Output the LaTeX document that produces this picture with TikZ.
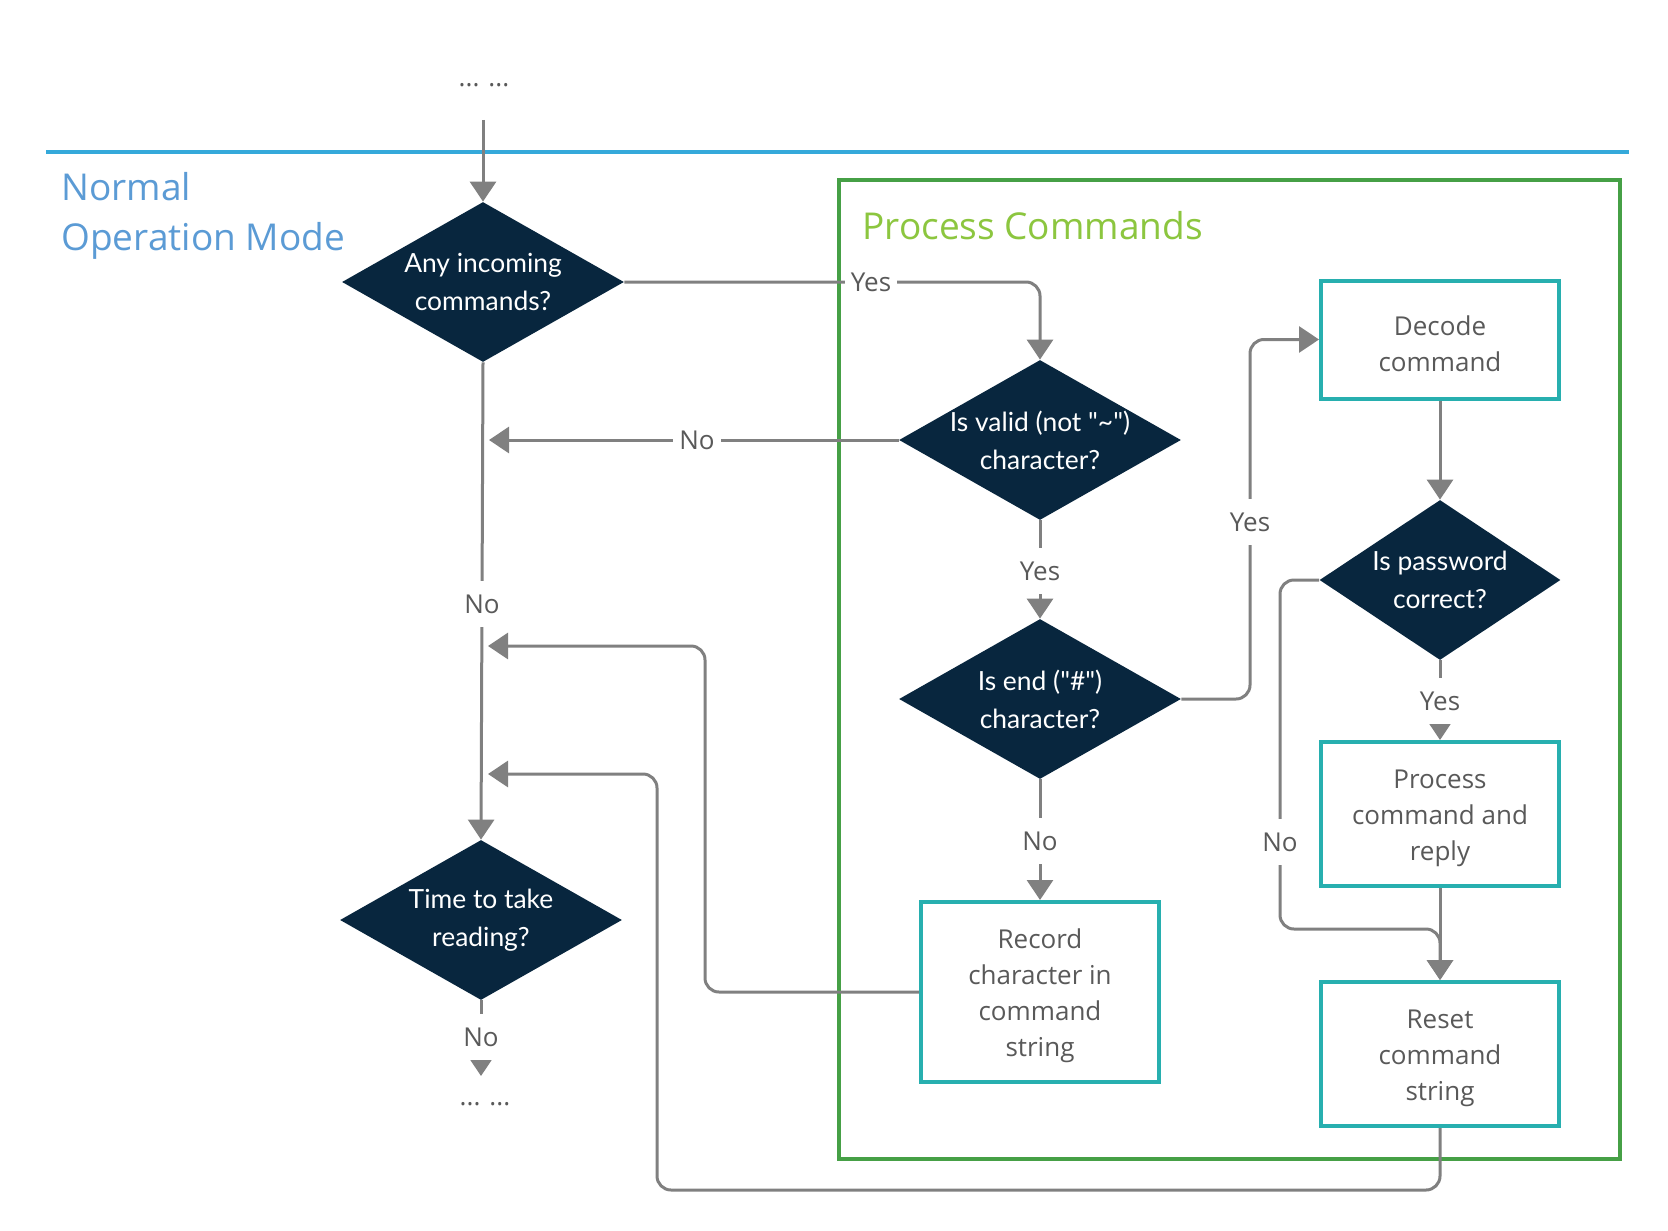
\documentclass[tikz,border=0pt]{standalone}
\usepackage{fontspec}
\setmainfont{Open Sans}
\newfontfamily\latofont{Lato}
\usetikzlibrary{shapes.geometric,arrows.meta}
\definecolor{navy}{HTML}{08263E}
\definecolor{linegray}{HTML}{808080}
\definecolor{boxteal}{HTML}{27AFAF}
\definecolor{framegreen}{HTML}{46A046}
\definecolor{titlegreen}{HTML}{8CC63F}
\definecolor{titleblue}{HTML}{5B9BD5}
\definecolor{bandblue}{HTML}{35A9DA}
\definecolor{txtgray}{HTML}{595959}
\begin{document}
\begin{tikzpicture}[x=0.5pt,y=-0.5pt,
  dia/.style={diamond, fill=navy, draw=none, inner sep=0pt, minimum width=141pt, minimum height=80pt},
  dtext/.style={text=white, font=\latofont\fontsize{13.2}{19}\selectfont, align=center, inner sep=0pt},
  box/.style={rectangle, draw=boxteal, line width=2pt, fill=white, minimum width=119pt, inner sep=0pt},
  btext/.style={align=center, text=txtgray, font=\fontsize{13}{18}\selectfont, inner sep=0pt, yshift=-2pt},
  conn/.style={draw=linegray, line width=1.5pt, rounded corners=7pt, -{Triangle[width=13pt,length=10pt]}},
  lbl/.style={fill=white, text=txtgray, font=\fontsize{13}{16}\selectfont, inner xsep=3pt, inner ysep=7pt},
  title/.style={inner sep=0pt, anchor=base west, font=\fontsize{18.5}{25}\selectfont},
  dots/.style={text=txtgray, font=\fontsize{13}{16}\selectfont, inner sep=0pt},
]
\useasboundingbox (0,0) rectangle (1668,1230);
\fill[white] (0,0) rectangle (1668,1230);

% band and frame
\draw[bandblue, line width=2pt] (46,152) -- (1629,152);
\draw[framegreen, line width=2pt] (839,180) rectangle (1620,1159);
\node[title, text=titleblue] (t1) at (61,200) {Normal};
\node[title, text=titleblue] (t2) at (61,250) {Operation Mode};
\node[title, text=titlegreen] (t3) at (862,239) {Process Commands};

% nodes
\node[dots] (dots1) at (484,85) {... ...};
\node[dots] (dots2) at (485,1104) {... ...};
\coordinate (c0) at (483,120);
\coordinate (c1) at (481,1076);
\coordinate (m1) at (489,440);
\coordinate (m2) at (488,646);
\coordinate (m3) at (488,774);

\node[dia, label={[dtext]center:{Any incoming\\commands?}}] (d1) at (483,282) {};
\node[dia, label={[dtext]center:{Is valid (not "\textasciitilde")\\character?}}] (d2) at (1040,440) {};
\node[dia, label={[dtext]center:{Is end ("\#")\\character?}}] (d3) at (1040,699) {};
\node[dia, label={[dtext]center:{Time to take\\reading?}}] (d4) at (481,920) {};
\node[dia, minimum width=120.5pt, label={[dtext]center:{Is password\\correct?}}] (d5) at (1440,580) {};

\node[box, minimum height=59pt, label={[btext]center:{Decode\\command}}] (dec) at (1440,339.5) {};
\node[box, minimum height=72pt, label={[btext]center:{Process\\command and\\reply}}] (proc) at (1440,814) {};
\node[box, minimum height=72pt, label={[btext]center:{Reset\\command\\string}}] (reset) at (1440,1054) {};
\node[box, minimum height=90pt, label={[btext]center:{Record\\character in\\command\\string}}] (rec) at (1040,992) {};

% connectors
\draw[conn] (c0) -- (d1.north);
\draw[conn] (d1.east) -| (d2.north);
\draw[conn] (d2.west) -- (m1);
\draw[conn] (d1.south) -- (d4.north);
\draw[conn] (d2.south) -- (d3.north);
\draw[conn] (d3.south) -- (rec.north);
\draw[conn] (d3.east) -| (1250,339.5) -- (dec.west);
\draw[conn] (dec.south) -- (d5.north);
\draw[conn] (d5.south) -- (proc.north);
\draw[conn] (proc.south) -- (reset.north);
\draw[conn] (d5.west) -| (1280,929) -| (reset.north);
\draw[conn] (rec.west) -| (705,646) -- (m2);
\draw[conn] (reset.south) |- (657,1190) |- (m3);
\draw[conn] (d4.south) -- (c1);

% labels
\node[lbl] (l1) at (871,282) {Yes};
\node[lbl] (l2) at (697,440) {No};
\node[lbl] (l3) at (482,604) {No};
\node[lbl] (l4) at (1040,571) {Yes};
\node[lbl] (l5) at (1040,841) {No};
\node[lbl] (l6) at (1250,522) {Yes};
\node[lbl] (l7) at (1440,701) {Yes};
\node[lbl] (l8) at (1280,842) {No};
\node[lbl] (l9) at (481,1037) {No};
\end{tikzpicture}
\end{document}
